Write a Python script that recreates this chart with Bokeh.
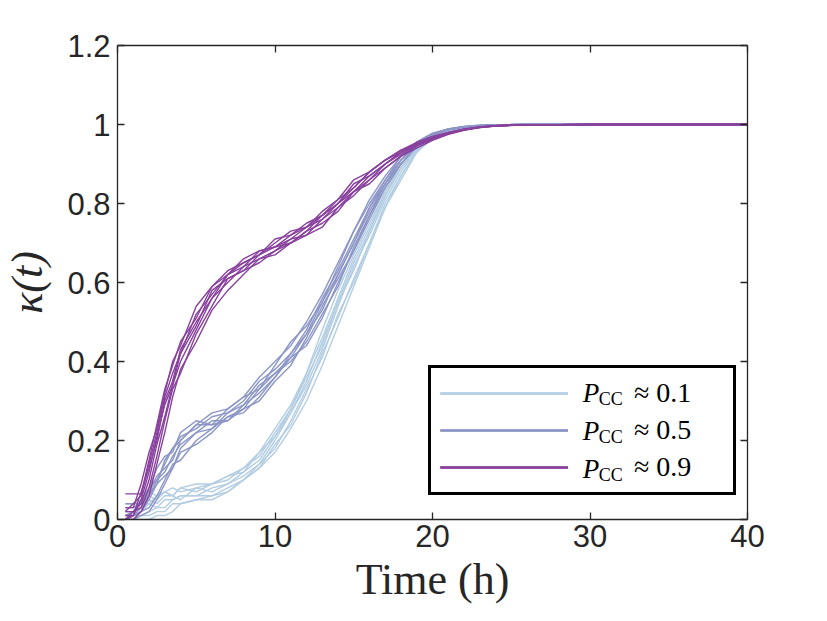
from bokeh.plotting import figure
from bokeh.models import Label, FixedTicker, LinearAxis, Range1d
from bokeh.embed import file_html
from bokeh.resources import INLINE

# sample times (h), shared by every run
time_h = [0.5, 1, 1.5, 2, 2.5, 3, 3.5, 4, 5, 6, 7, 8, 9, 10, 11, 12, 13, 14, 15, 16,
          17, 18, 19, 20, 21, 22, 23, 24, 26, 30, 40]

# kappa(t) for the runs with P_CC ~ 0.1
runs_01 = [
    [0.00, 0.01, 0.02, 0.04, 0.03, 0.05, 0.05, 0.06, 0.06, 0.08, 0.09, 0.11, 0.14, 0.20, 0.27, 0.34, 0.43, 0.54, 0.64, 0.72, 0.81, 0.88, 0.94, 0.97, 0.985, 0.993, 0.997, 0.999, 1, 1, 1],
    [0.04, 0.04, 0.05, 0.07, 0.06, 0.07, 0.08, 0.07, 0.08, 0.09, 0.11, 0.13, 0.17, 0.23, 0.29, 0.37, 0.48, 0.58, 0.67, 0.75, 0.83, 0.90, 0.945, 0.973, 0.987, 0.994, 0.997, 0.999, 1, 1, 1],
    [0.00, 0.00, 0.01, 0.01, 0.02, 0.02, 0.04, 0.04, 0.05, 0.05, 0.07, 0.10, 0.13, 0.17, 0.23, 0.30, 0.39, 0.49, 0.59, 0.69, 0.79, 0.87, 0.93, 0.965, 0.983, 0.992, 0.996, 0.999, 1, 1, 1],
    [0.02, 0.02, 0.04, 0.05, 0.04, 0.06, 0.06, 0.05, 0.08, 0.07, 0.09, 0.12, 0.17, 0.21, 0.28, 0.36, 0.44, 0.55, 0.65, 0.73, 0.82, 0.89, 0.94, 0.97, 0.985, 0.993, 0.997, 0.999, 1, 1, 1],
    [0.00, 0.00, 0.00, 0.00, 0.01, 0.01, 0.02, 0.04, 0.05, 0.06, 0.07, 0.10, 0.13, 0.19, 0.24, 0.32, 0.42, 0.51, 0.61, 0.70, 0.80, 0.87, 0.935, 0.967, 0.984, 0.992, 0.996, 0.999, 1, 1, 1],
    [0.01, 0.02, 0.03, 0.06, 0.05, 0.07, 0.06, 0.08, 0.07, 0.09, 0.10, 0.13, 0.16, 0.22, 0.28, 0.37, 0.46, 0.56, 0.66, 0.74, 0.83, 0.89, 0.945, 0.972, 0.986, 0.993, 0.997, 0.999, 1, 1, 1],
    [0.00, 0.01, 0.01, 0.02, 0.03, 0.03, 0.05, 0.06, 0.06, 0.06, 0.08, 0.10, 0.14, 0.18, 0.25, 0.33, 0.41, 0.52, 0.60, 0.70, 0.79, 0.86, 0.93, 0.965, 0.983, 0.992, 0.996, 0.999, 1, 1, 1],
    [0.03, 0.03, 0.04, 0.04, 0.06, 0.07, 0.06, 0.08, 0.09, 0.09, 0.11, 0.12, 0.15, 0.21, 0.27, 0.35, 0.45, 0.55, 0.63, 0.73, 0.82, 0.89, 0.94, 0.97, 0.986, 0.993, 0.997, 0.999, 1, 1, 1],
]

# P_CC ~ 0.5
runs_05 = [
    [0.00, 0.01, 0.03, 0.06, 0.10, 0.12, 0.16, 0.19, 0.22, 0.25, 0.25, 0.29, 0.34, 0.37, 0.41, 0.47, 0.55, 0.62, 0.70, 0.79, 0.85, 0.91, 0.95, 0.975, 0.988, 0.994, 0.997, 0.999, 1, 1, 1],
    [0.04, 0.04, 0.04, 0.08, 0.13, 0.16, 0.17, 0.22, 0.25, 0.24, 0.28, 0.31, 0.33, 0.39, 0.45, 0.49, 0.55, 0.64, 0.73, 0.80, 0.86, 0.92, 0.955, 0.977, 0.989, 0.995, 0.998, 0.999, 1, 1, 1],
    [0.01, 0.01, 0.02, 0.03, 0.06, 0.10, 0.14, 0.15, 0.20, 0.23, 0.26, 0.27, 0.31, 0.36, 0.41, 0.44, 0.51, 0.60, 0.68, 0.76, 0.84, 0.90, 0.945, 0.972, 0.987, 0.994, 0.997, 0.999, 1, 1, 1],
    [0.00, 0.00, 0.01, 0.02, 0.05, 0.09, 0.13, 0.17, 0.19, 0.22, 0.26, 0.28, 0.30, 0.35, 0.39, 0.46, 0.54, 0.61, 0.68, 0.77, 0.84, 0.90, 0.945, 0.972, 0.986, 0.993, 0.997, 0.999, 1, 1, 1],
    [0.02, 0.02, 0.05, 0.08, 0.10, 0.14, 0.18, 0.21, 0.23, 0.26, 0.27, 0.30, 0.35, 0.38, 0.42, 0.48, 0.56, 0.63, 0.71, 0.79, 0.86, 0.91, 0.95, 0.976, 0.988, 0.994, 0.997, 0.999, 1, 1, 1],
    [0.00, 0.01, 0.02, 0.05, 0.09, 0.11, 0.13, 0.18, 0.22, 0.23, 0.27, 0.29, 0.32, 0.36, 0.42, 0.47, 0.53, 0.62, 0.70, 0.78, 0.85, 0.91, 0.95, 0.975, 0.988, 0.994, 0.997, 0.999, 1, 1, 1],
    [0.01, 0.02, 0.03, 0.07, 0.11, 0.13, 0.15, 0.20, 0.24, 0.24, 0.25, 0.28, 0.33, 0.37, 0.40, 0.45, 0.52, 0.59, 0.69, 0.77, 0.85, 0.90, 0.948, 0.974, 0.987, 0.994, 0.997, 0.999, 1, 1, 1],
    [0.03, 0.03, 0.04, 0.06, 0.09, 0.15, 0.18, 0.20, 0.24, 0.27, 0.28, 0.31, 0.36, 0.40, 0.44, 0.50, 0.57, 0.65, 0.73, 0.81, 0.87, 0.92, 0.956, 0.978, 0.989, 0.995, 0.998, 0.999, 1, 1, 1],
]

# P_CC ~ 0.9
runs_09 = [
    [0.00, 0.01, 0.05, 0.12, 0.21, 0.29, 0.34, 0.42, 0.49, 0.58, 0.61, 0.63, 0.67, 0.69, 0.70, 0.73, 0.77, 0.80, 0.83, 0.87, 0.90, 0.93, 0.95, 0.965, 0.978, 0.987, 0.993, 0.997, 0.999, 1, 1],
    [0.065, 0.065, 0.065, 0.15, 0.24, 0.33, 0.39, 0.45, 0.51, 0.59, 0.62, 0.66, 0.68, 0.69, 0.72, 0.75, 0.77, 0.81, 0.86, 0.88, 0.91, 0.935, 0.955, 0.97, 0.98, 0.989, 0.994, 0.997, 0.999, 1, 1],
    [0.02, 0.02, 0.03, 0.08, 0.16, 0.25, 0.33, 0.37, 0.47, 0.54, 0.61, 0.63, 0.65, 0.68, 0.71, 0.72, 0.74, 0.79, 0.82, 0.86, 0.89, 0.92, 0.945, 0.962, 0.976, 0.986, 0.992, 0.996, 0.999, 1, 1],
    [0.00, 0.00, 0.02, 0.06, 0.14, 0.22, 0.31, 0.38, 0.45, 0.53, 0.58, 0.62, 0.66, 0.67, 0.70, 0.73, 0.75, 0.78, 0.83, 0.85, 0.89, 0.92, 0.94, 0.96, 0.975, 0.985, 0.992, 0.996, 0.999, 1, 1],
    [0.03, 0.03, 0.09, 0.17, 0.23, 0.32, 0.40, 0.44, 0.54, 0.59, 0.63, 0.65, 0.67, 0.71, 0.72, 0.74, 0.78, 0.81, 0.84, 0.88, 0.91, 0.93, 0.952, 0.967, 0.979, 0.988, 0.993, 0.997, 0.999, 1, 1],
    [0.01, 0.01, 0.07, 0.13, 0.20, 0.30, 0.35, 0.43, 0.50, 0.56, 0.62, 0.64, 0.68, 0.69, 0.71, 0.74, 0.76, 0.80, 0.85, 0.87, 0.90, 0.93, 0.95, 0.965, 0.978, 0.987, 0.993, 0.997, 0.999, 1, 1],
    [0.00, 0.02, 0.04, 0.10, 0.19, 0.26, 0.34, 0.40, 0.48, 0.56, 0.60, 0.64, 0.66, 0.68, 0.70, 0.72, 0.76, 0.79, 0.83, 0.86, 0.90, 0.925, 0.948, 0.964, 0.977, 0.987, 0.993, 0.997, 0.999, 1, 1],
    [0.02, 0.04, 0.06, 0.14, 0.22, 0.31, 0.37, 0.42, 0.52, 0.57, 0.62, 0.65, 0.67, 0.70, 0.73, 0.74, 0.77, 0.80, 0.84, 0.88, 0.91, 0.935, 0.95, 0.967, 0.98, 0.988, 0.994, 0.997, 0.999, 1, 1],
]

groups = [("≈ 0.1", runs_01, "#b3cde3"), ("≈ 0.5", runs_05, "#8c96c6"), ("≈ 0.9", runs_09, "#88419d")]

x_ticks = [0, 10, 20, 30, 40]
y_ticks = [0, 0.2, 0.4, 0.6, 0.8, 1, 1.2]
y_tick_labels = ["0", "0.2", "0.4", "0.6", "0.8", "1", "1.2"]

axis_color = "#262626"

p = figure(frame_width=630, frame_height=474, min_border_left=117, min_border_right=78,
           min_border_top=45, min_border_bottom=100,
           x_range=Range1d(0, 40), y_range=Range1d(0, 1.2),
           output_backend="svg", toolbar_location=None)
p.grid.visible = False
p.outline_line_color = None
p.background_fill_color = "white"

for label, runs, color in groups:
    for run in runs:
        p.line(time_h, run, line_color=color, line_width=1.4, legend_label=label)

p.xaxis.ticker = FixedTicker(ticks=x_ticks)
p.yaxis.ticker = FixedTicker(ticks=y_ticks)
p.yaxis.major_label_overrides = {t: s for t, s in zip(y_ticks, y_tick_labels)}
p.xaxis.axis_label = "Time (h)"
p.yaxis.axis_label = "κ(t)"

# box around the frame, ticks pointing inwards on all four sides
p.add_layout(LinearAxis(ticker=FixedTicker(ticks=x_ticks)), "above")
p.add_layout(LinearAxis(ticker=FixedTicker(ticks=y_ticks)), "right")
for ax in p.axis:
    ax.axis_line_color = axis_color
    ax.axis_line_width = 1.3
    ax.major_tick_line_color = axis_color
    ax.major_tick_line_width = 1.3
    ax.major_tick_in = 7
    ax.major_tick_out = 0
    ax.minor_tick_line_color = None
    ax.major_label_text_font = "Liberation Sans"
    ax.major_label_text_font_size = "31px"
    ax.major_label_text_color = axis_color
    ax.axis_label_text_font = "Liberation Serif"
    ax.axis_label_text_font_size = "44px"
    ax.axis_label_text_font_style = "normal"
    ax.axis_label_text_color = axis_color
for ax in (p.above[0], p.right[0]):
    ax.major_label_text_font_size = "1px"
    ax.major_label_text_color = None
    ax.major_label_standoff = 0
p.xaxis[0].major_label_standoff = 15
p.xaxis[0].axis_label_standoff = 6
p.yaxis[0].major_label_standoff = 7
p.yaxis[0].axis_label_standoff = 12
p.yaxis[0].axis_label_text_font_size = "44px"
p.yaxis[0].axis_label_text_font_style = "italic"

leg = p.legend[0]
leg.location = (311, 24)
leg.margin = 0
leg.padding = 9
leg.spacing = 5
leg.glyph_width = 128
leg.glyph_height = 28
leg.label_height = 28
leg.label_width = 90
leg.label_standoff = 66
leg.label_text_font = "Liberation Serif"
leg.label_text_font_size = "28px"
leg.label_text_color = "black"
leg.border_line_color = "black"
leg.border_line_alpha = 1
leg.border_line_width = 3
leg.background_fill_color = None

# P_CC prefix of each legend entry
for row_y in [0.319, 0.2228, 0.1266]:
    p.add_layout(Label(x=29.54, y=row_y, text="P", text_font="Liberation Serif",
                       text_font_size="27px", text_font_style="italic",
                       text_baseline="middle", text_color="black"))
    p.add_layout(Label(x=30.55, y=row_y - 0.0127, text="CC", text_font="Liberation Serif",
                       text_font_size="18px", text_baseline="middle", text_color="black"))

open("out.html", "w").write(file_html(p, INLINE))
